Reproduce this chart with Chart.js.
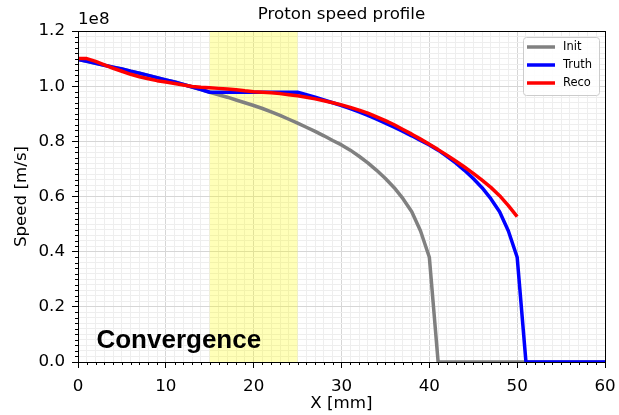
<!DOCTYPE html>
<html lang="en">
<head>
    <meta charset="UTF-8">
    <title>Proton speed profile</title>
    <script src="https://cdn.jsdelivr.net/npm/chart.js"></script>
    <style>
        body { margin: 0; background: #fff; }
    </style>
</head>
<body>
    <canvas id="speedChart" width="619" height="415"></canvas>

    <script>
        // positions along the track, mm
        const xs = [0, 1, 2, 3, 4, 5, 6, 7, 8, 9, 10, 11, 12, 13, 14, 15, 16, 17, 18, 19, 20,
            21, 22, 23, 24, 25, 26, 27, 28, 29, 30, 31, 32, 33, 34, 35, 36, 37, 38, 39, 40,
            41, 42, 43, 44, 45, 46, 47, 48, 49, 50, 51, 52, 53, 54, 55, 56, 57, 58, 59, 60];

        // speed in units of 1e8 m/s
        const initSpeed = [1.097, 1.090, 1.083, 1.076, 1.069, 1.062, 1.054, 1.047, 1.039, 1.031,
            1.023, 1.015, 1.006, 0.997, 0.988, 0.978, 0.969, 0.960, 0.950, 0.940,
            0.930, 0.919, 0.907, 0.894, 0.880, 0.866, 0.851, 0.836, 0.820, 0.803,
            0.787, 0.768, 0.746, 0.722, 0.695, 0.665, 0.632, 0.592, 0.545, 0.475,
            0.380, 0, 0, 0, 0, 0, 0, 0, 0, 0, 0, 0, 0, 0, 0, 0, 0, 0, 0, 0, 0];

        const truthSpeed = [1.097, 1.090, 1.083, 1.076, 1.069, 1.062, 1.054, 1.047, 1.039, 1.031,
            1.023, 1.015, 1.006, 0.997, 0.988, 0.978, 0.978, 0.978, 0.978, 0.978,
            0.978, 0.978, 0.978, 0.978, 0.978, 0.978, 0.969, 0.960, 0.950, 0.940,
            0.930, 0.919, 0.907, 0.894, 0.880, 0.866, 0.851, 0.836, 0.820, 0.803,
            0.787, 0.768, 0.746, 0.722, 0.695, 0.665, 0.632, 0.592, 0.545, 0.475,
            0.380, 0, 0, 0, 0, 0, 0, 0, 0, 0, 0];

        const recoSpeed = [1.100, 1.100, 1.090, 1.077, 1.065, 1.054, 1.043, 1.034, 1.027, 1.020,
            1.015, 1.010, 1.004, 0.999, 0.996, 0.994, 0.992, 0.990, 0.987, 0.983,
            0.980, 0.978, 0.976, 0.973, 0.969, 0.965, 0.960, 0.954, 0.947, 0.940,
            0.932, 0.923, 0.913, 0.902, 0.889, 0.875, 0.860, 0.843, 0.826, 0.808,
            0.789, 0.770, 0.750, 0.729, 0.707, 0.684, 0.659, 0.633, 0.603, 0.567,
            0.527];

        const bandRange = [15, 25]; // highlighted region, mm

        const toPoints = (arr) => arr.map((v, i) => ({ x: xs[i], y: v }));

        const MAJOR_GRID = '#d6d6d6';
        const MINOR_GRID = '#eeeeee';
        const FONT_SIZE = 16.7;

        const isMajorX = (v) => Math.abs(v % 10) < 1e-6;
        const isMajorY = (v) => Math.abs(v * 5 - Math.round(v * 5)) < 1e-6;

        // yellow band, frame, minor ticks, legend and labels
        const decor = {
            id: 'decor',
            beforeDatasetsDraw(chart) {
                const { ctx, chartArea: a, scales: { x } } = chart;
                const x0 = x.getPixelForValue(bandRange[0]);
                const x1 = x.getPixelForValue(bandRange[1]);
                ctx.save();
                ctx.fillStyle = 'rgba(255, 255, 0, 0.28)';
                ctx.fillRect(x0, a.top, x1 - x0, a.bottom - a.top);
                ctx.restore();
            },
            afterDraw(chart) {
                const { ctx, chartArea: a, scales: { x, y } } = chart;
                ctx.save();

                // frame
                ctx.strokeStyle = '#000';
                ctx.lineWidth = 1;
                ctx.strokeRect(a.left + 0.5, a.top + 0.5, a.right - a.left, a.bottom - a.top);

                // minor ticks
                ctx.beginPath();
                x.ticks.forEach((t) => {
                    if (isMajorX(t.value)) return;
                    const px = Math.round(x.getPixelForValue(t.value)) + 0.5;
                    ctx.moveTo(px, a.bottom);
                    ctx.lineTo(px, a.bottom + 3);
                });
                y.ticks.forEach((t) => {
                    if (isMajorY(t.value)) return;
                    const py = Math.round(y.getPixelForValue(t.value)) + 0.5;
                    ctx.moveTo(a.left, py);
                    ctx.lineTo(a.left - 3, py);
                });
                ctx.stroke();

                // title, offset text, axis titles
                ctx.fillStyle = '#000';
                ctx.font = FONT_SIZE + 'px "DejaVu Sans"';
                ctx.textAlign = 'center';
                ctx.textBaseline = 'middle';
                ctx.fillText('Proton speed profile', (a.left + a.right) / 2, 15);
                ctx.fillText('X [mm]', (a.left + a.right) / 2, 404);
                ctx.textAlign = 'left';
                ctx.fillText('1e8', a.left, 20);
                ctx.save();
                ctx.translate(22, (a.top + a.bottom) / 2);
                ctx.rotate(-Math.PI / 2);
                ctx.textAlign = 'center';
                ctx.fillText('Speed [m/s]', 0, 0);
                ctx.restore();

                // annotation
                ctx.font = 'bold 26px "Liberation Sans", Arial, sans-serif';
                ctx.textBaseline = 'alphabetic';
                ctx.textAlign = 'left';
                ctx.fillText('Convergence', x.getPixelForValue(2.1), y.getPixelForValue(0.052));

                // legend box
                const bx = 523, by = 37, bw = 76, bh = 58;
                ctx.fillStyle = 'rgba(255,255,255,0.85)';
                ctx.strokeStyle = '#cccccc';
                ctx.lineWidth = 1;
                ctx.beginPath();
                ctx.roundRect(bx + 0.5, by + 0.5, bw, bh, 3);
                ctx.fill();
                ctx.stroke();
                ctx.font = '11.5px "DejaVu Sans"';
                ctx.textBaseline = 'middle';
                chart.data.datasets.forEach((ds, i) => {
                    const rowY = by + 10 + i * 18;
                    ctx.strokeStyle = ds.borderColor;
                    ctx.lineWidth = 3.5;
                    ctx.beginPath();
                    ctx.moveTo(bx + 4, rowY);
                    ctx.lineTo(bx + 32, rowY);
                    ctx.stroke();
                    ctx.fillStyle = '#000';
                    ctx.fillText(ds.label, bx + 40, rowY);
                });

                ctx.restore();
            }
        };

        Chart.defaults.font.family = '"DejaVu Sans"';
        Chart.defaults.color = '#000';

        const lineStyle = { pointRadius: 0, borderWidth: 3.5, tension: 0, fill: false, borderJoinStyle: 'round' };

        new Chart(document.getElementById('speedChart').getContext('2d'), {
            type: 'line',
            data: {
                datasets: [
                    // higher order is drawn first, so Reco ends on top like in matplotlib
                    { label: 'Init', data: toPoints(initSpeed), borderColor: '#808080', order: 3, ...lineStyle },
                    { label: 'Truth', data: toPoints(truthSpeed), borderColor: '#0000ff', order: 2, ...lineStyle },
                    { label: 'Reco', data: toPoints(recoSpeed), borderColor: '#ff0000', order: 1, ...lineStyle }
                ]
            },
            options: {
                responsive: false,
                animation: false,
                layout: { padding: { top: 31, right: 14, left: 0, bottom: 0 } },
                plugins: {
                    legend: { display: false },
                    tooltip: { enabled: false }
                },
                scales: {
                    x: {
                        type: 'linear',
                        min: 0,
                        max: 60,
                        afterFit: (s) => {
                            s.height = 53;
                            s.paddingLeft = 0;
                            s.paddingRight = 0;
                        },
                        ticks: {
                            stepSize: 1,
                            autoSkip: false,
                            maxRotation: 0,
                            padding: 9,
                            font: { size: FONT_SIZE },
                            callback: (v) => isMajorX(v) ? String(v) : ''
                        },
                        grid: {
                            color: (c) => isMajorX(c.tick.value) ? MAJOR_GRID : MINOR_GRID,
                            tickColor: (c) => isMajorX(c.tick.value) ? '#000' : 'rgba(0,0,0,0)',
                            tickLength: 6
                        },
                        border: { color: '#000', width: 1 }
                    },
                    y: {
                        min: 0,
                        max: 1.2,
                        afterFit: (s) => {
                            s.width = 78;
                            s.paddingTop = 0;
                            s.paddingBottom = 0;
                        },
                        ticks: {
                            stepSize: 0.02,
                            autoSkip: false,
                            padding: 7,
                            font: { size: FONT_SIZE },
                            callback: (v) => isMajorY(v) ? v.toFixed(1) : ''
                        },
                        grid: {
                            color: (c) => isMajorY(c.tick.value) ? MAJOR_GRID : MINOR_GRID,
                            tickColor: (c) => isMajorY(c.tick.value) ? '#000' : 'rgba(0,0,0,0)',
                            tickLength: 6
                        },
                        border: { color: '#000', width: 1 }
                    }
                }
            },
            plugins: [decor]
        });
    </script>
</body>
</html>
